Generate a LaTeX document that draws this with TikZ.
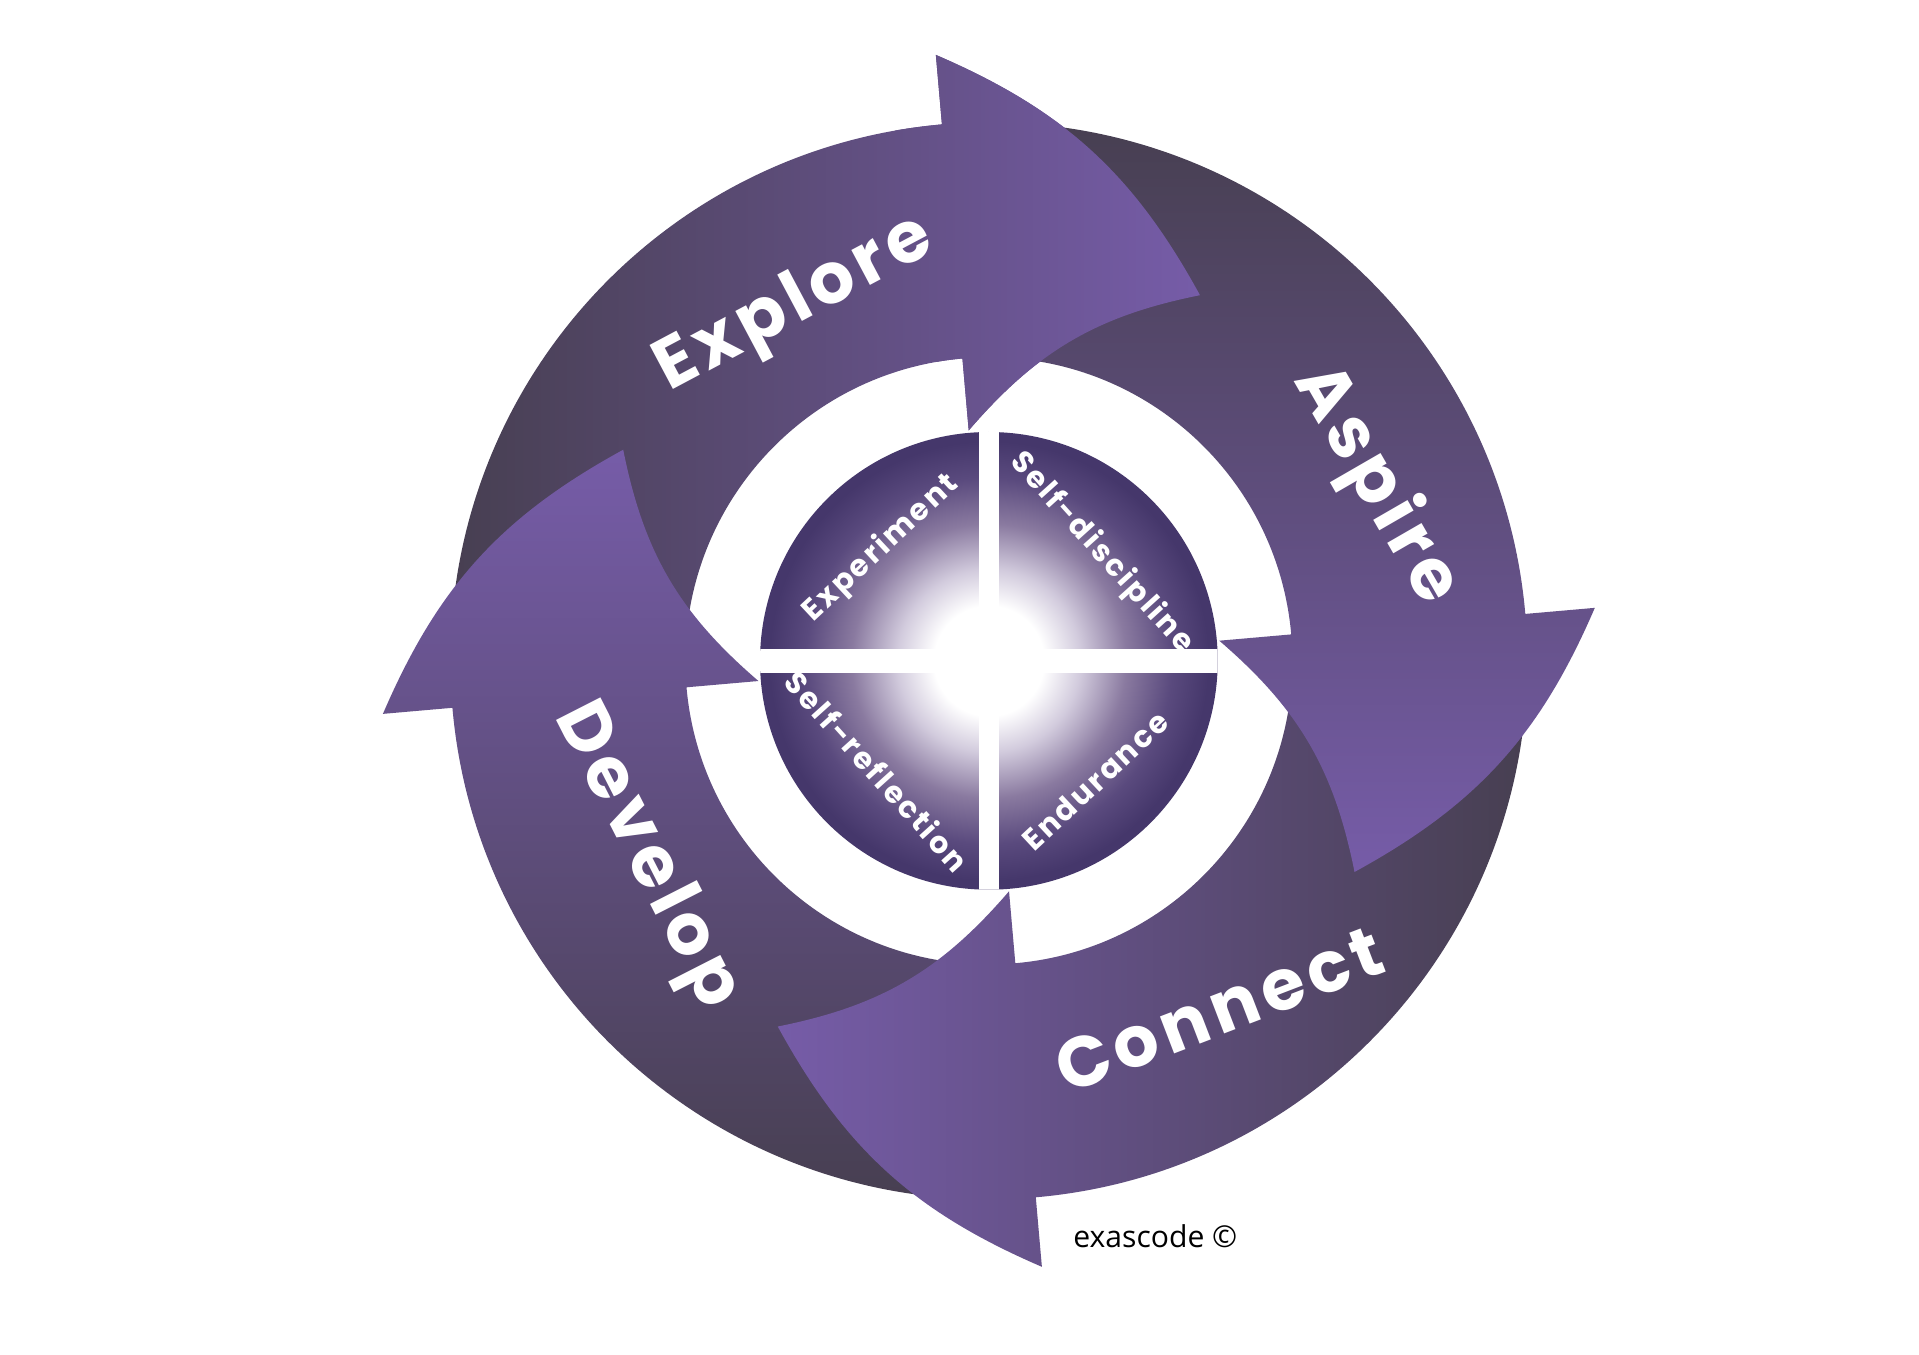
\documentclass[tikz,border=0pt]{standalone}
\usepackage{fontspec}
\usetikzlibrary{positioning}
\newfontfamily\ringfont{Poppins}[LetterSpace=8]
\newfontfamily\notefont{Open Sans}
\definecolor{banddark}{HTML}{473F51}
\definecolor{bandlight}{HTML}{765CA8}
\definecolor{quaddark}{HTML}{3F315F}
\definecolor{quadedge}{HTML}{45376B}
\definecolor{quadmid}{HTML}{5A4A7E}
\definecolor{glowmid}{HTML}{8A7AA0}
\definecolor{glowpale}{HTML}{D2CBDD}
\pgfdeclareradialshading{coreglow}{\pgfpoint{0bp}{0bp}}{color(0bp)=(white); color(6bp)=(white); color(10bp)=(glowpale); color(15bp)=(glowmid); color(20bp)=(quadmid); color(24bp)=(quadedge); color(50bp)=(quaddark)}
% one curved arrow of the ring, #1 = angle of the back of its head
\newcommand{\arrowpath}[1]{({#1+85}:4.40) arc[start angle={#1+85}, end angle={#1}, radius=4.40] -- ({#1}:4.97) to[bend left=19] ({#1-35}:3.45) to[bend right=19] ({#1}:1.89) -- ({#1}:2.48) arc[start angle={#1}, end angle={#1+85}, radius=2.48] -- cycle}
\tikzset{
  arrowband/.style={bottom color=banddark, top color=bandlight, shading angle=#1},
  bigword/.style={text=white, font=\ringfont\bfseries\fontsize{16.5}{16.5}\selectfont},
  smallword/.style={text=white, font=\ringfont\bfseries\fontsize{7}{7}\selectfont},
}
\begin{document}
\begin{tikzpicture}
\useasboundingbox (-8.08,-5.67) rectangle (7.60,5.40);
\fill[white] (-8.08,-5.67) rectangle (7.60,5.40);
%outer ring of arrows
\shade[arrowband=-90] \arrowpath{95};
\shade[arrowband=0] \arrowpath{185};
\shade[arrowband=-270] \arrowpath{-85};
\shade[arrowband=-180] \arrowpath{5};
%head of explore goes over the tail of aspire
\begin{scope}
\clip (0,0) -- (100:6) arc[start angle=100, end angle=40, radius=6] -- cycle;
\shade[arrowband=-90] \arrowpath{95};
\end{scope}
%inner disc, four quarters
\begin{scope}
\clip (0,0) circle (1.87);
\shade[shading=coreglow] (0,0) circle (1.87);
\fill[white] (-2,-0.10) rectangle (2,0.10);
\fill[white] (-0.08,-2) rectangle (0.08,2);
\end{scope}
%words on the arrows
\node[bigword, rotate=28] (explore) at (-1.58,2.90) {Explore};
\node[bigword, rotate=-60] (aspire) at (3.16,1.44) {Aspire};
\node[bigword, rotate=21] (connect) at (1.88,-2.85) {Connect};
\node[bigword, rotate=-63] (develop) at (-2.81,-1.60) {Develop};
%words in the quarters
\node[smallword, rotate=43] (experiment) at (-0.88,0.92) {Experiment};
\node[smallword, rotate=-48] (selfdisc) at (0.92,0.88) {Self-discipline};
\node[smallword, rotate=-48] (selfrefl) at (-0.91,-0.90) {Self-reflection};
\node[smallword, rotate=43] (endurance) at (0.87,-0.98) {Endurance};
\node[font=\notefont\fontsize{7}{7}\selectfont] (copyright) at (1.36,-4.70) {exascode ©};
\end{tikzpicture}
\end{document}
